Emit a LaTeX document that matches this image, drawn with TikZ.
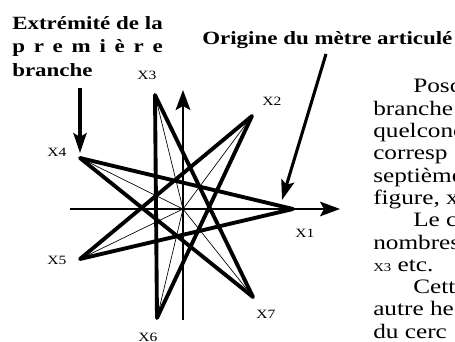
\documentclass[tikz,border=0pt]{standalone}
\usepackage{fontspec}
\setmainfont{Liberation Serif}
\usepackage{graphicx}
\usetikzlibrary{arrows.meta}
\newcommand{\etire}[1]{\scalebox{1.23}[1]{#1}}

\begin{document}
\begin{tikzpicture}[x=0.75pt,y=-0.75pt,
    branche/.style={line width=2.9pt,line join=round},
    rayon/.style={line width=0.5pt},
    axe/.style={-{Stealth[length=15pt,width=11pt,inset=3pt]}},
    fleche/.style={line width=2.3pt,-{Stealth[length=15pt,width=10pt,inset=3pt]}},
    repere/.style={font=\fontsize{9.5}{9.5}\selectfont,inner sep=0pt},
    titre/.style={font=\fontsize{14}{14}\selectfont\bfseries,anchor=base west,inner sep=0pt},
    texte/.style={font=\fontsize{15.4}{16}\selectfont,anchor=base west,inner sep=0pt}]
  \useasboundingbox (0,0) rectangle (455,342);
  \clip (0,0) rectangle (455,342);
  % sommets de l'etoile
  \coordinate (x1) at (293,209);
  \coordinate (x2) at (252,116);
  \coordinate (x3) at (155,95);
  \coordinate (x4) at (80,158);
  \coordinate (x5) at (80,259);
  \coordinate (x6) at (157,318);
  \coordinate (x7) at (253,297);
  \coordinate (o) at (183,209);
  \foreach \i in {1,...,7} \draw[rayon] (o) -- (x\i);
  \draw[branche] (x1) -- (x4) -- (x7) -- (x3) -- (x6) -- (x2) -- (x5) -- cycle;
  % axes
  \coordinate (ouest) at (70,209);
  \coordinate (est) at (340,209);
  \coordinate (sud) at (183,320);
  \coordinate (nord) at (183,90);
  \draw[axe,line width=1.5pt] (ouest) -- (est);
  \draw[axe,line width=2pt] (sud) -- (nord);
  \foreach \i/\x/\y in {1/305/233,2/272/101,3/147/75,4/57/152,5/57/260,6/148/337,7/266/314}
    \node[repere] (l\i) at (\x,\y) {\etire{X\i}};
  % titres et fleches
  \node[titre] (t1) at (12,29.5) {\etire{Extrémité de la}};
  \node[titre] (t2) at (12,53) {\etire{\makebox[91.8pt]{p\hfill r\hfill e\hfill m\hfill i\hfill è\hfill r\hfill e}}};
  \node[titre] (t3) at (12,77) {\etire{branche}};
  \node[titre] (t4) at (202,45) {\etire{Origine du mètre articulé}};
  \coordinate (d1) at (80,88);
  \coordinate (f1) at (80,153);
  \coordinate (d2) at (326,54);
  \coordinate (f2) at (282,200);
  \draw[fleche] (d1) -- (f1);
  \draw[fleche] (d2) -- (f2);
  % texte courant
  \foreach \x/\y/\t [count=\n] in {413/93/Posc,373/115.3/branche,373/137.6/quelconc,373/159.9/corresp,
      373/182.2/septième,373/204.5/{figure, x},413/226.8/Le c,373/249.1/nombres,
      373/271.4/{{\fontsize{9}{9}\selectfont X3} etc.},413/293.7/Cette,373/316/autre he,373/338.3/du cerc}
    \node[texte] (ligne\n) at (\x,\y) {\etire{\t}};
\end{tikzpicture}
\end{document}
